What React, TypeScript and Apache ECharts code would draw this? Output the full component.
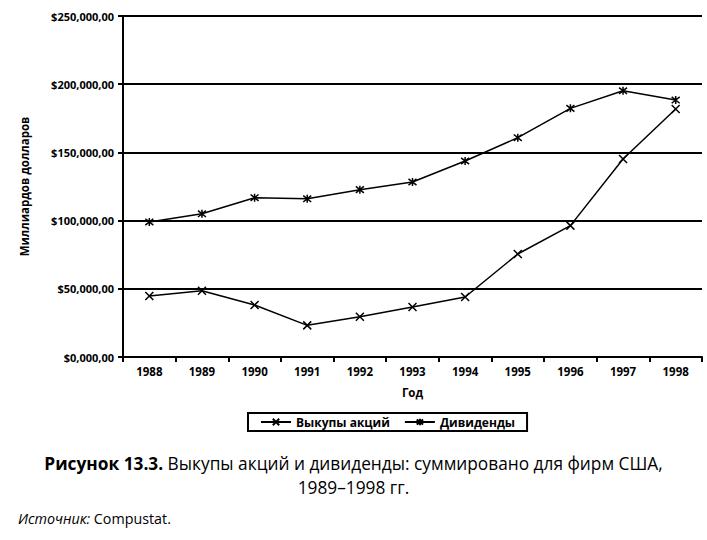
import React, { useEffect, useRef } from "react";
import * as echarts from "echarts";

const years = ["1988", "1989", "1990", "1991", "1992", "1993", "1994", "1995", "1996", "1997", "1998"];
const buybacks = [44700, 48600, 38100, 23200, 29500, 36700, 44000, 75500, 96300, 145200, 181800];
const dividends = [99000, 105000, 116800, 116000, 122700, 128300, 143700, 160800, 182300, 195200, 188400];
const yTickLabels = ["$0,000,00", "$50,000,00", "$100,000,00", "$150,000,00", "$200,000,00", "$250,000,00"];

const FONT = "'Open Sans', 'Noto Sans', sans-serif";
const CROSS = "path://M0,0L10,10M10,0L0,10";
const STAR = "path://M0,1L10,9M10,1L0,9M5,0L5,10";

export default function App() {
  const ref = useRef<HTMLDivElement>(null);
  useEffect(() => {
    if (!ref.current) return;
    const chart = echarts.init(ref.current, null, { renderer: "svg" });
    const seriesStyle = (name: string, data: number[], symbol: string) => ({
      name,
      type: "line",
      data,
      symbol,
      symbolSize: 8,
      showAllSymbol: true,
      lineStyle: { color: "#000", width: 1.5 },
      itemStyle: { color: "#000", borderColor: "#000", borderWidth: 1.5 },
    });
    chart.setOption({
      animation: false,
      textStyle: { fontFamily: FONT },
      grid: { left: 123, right: 5, top: 16, bottom: 183 },
      xAxis: {
        type: "category",
        data: years,
        boundaryGap: true,
        name: "Год",
        nameLocation: "middle",
        nameGap: 29,
        nameTextStyle: { fontWeight: "bold", fontSize: 11.5, color: "#000", fontFamily: FONT },
        axisLine: { lineStyle: { color: "#000", width: 2 } },
        axisTick: { show: true, alignWithLabel: false, length: 5, lineStyle: { color: "#000", width: 2 } },
        axisLabel: { color: "#000", fontWeight: "bold", fontSize: 11.5, margin: 8, fontFamily: FONT },
        splitLine: { show: false },
      },
      yAxis: {
        type: "value",
        min: 0,
        max: 250000,
        interval: 50000,
        name: "Миллиардов долларов",
        nameLocation: "middle",
        nameGap: 93,
        nameRotate: 90,
        nameTextStyle: { fontWeight: "bold", fontSize: 11.5, color: "#000", fontFamily: FONT },
        axisLine: { show: true, lineStyle: { color: "#000", width: 2 } },
        axisTick: { show: true, length: 5, lineStyle: { color: "#000", width: 2 } },
        axisLabel: {
          color: "#000",
          fontWeight: "bold",
          fontSize: 11,
          margin: 9,
          fontFamily: FONT,
          formatter: (v: number) => yTickLabels[Math.round(v / 50000)] ?? "",
        },
        splitLine: { show: true, lineStyle: { color: "#000", width: 2 } },
      },
      legend: {
        left: 248,
        top: 413,
        itemWidth: 30,
        itemHeight: 8,
        itemGap: 14,
        padding: [3, 12, 3, 12],
        borderColor: "#000",
        borderWidth: 2,
        textStyle: { color: "#000", fontWeight: "bold", fontSize: 12, fontFamily: FONT },
        data: ["Выкупы акций", "Дивиденды"],
      },
      series: [
        seriesStyle("Выкупы акций", buybacks, CROSS),
        seriesStyle("Дивиденды", dividends, STAR),
      ],
      graphic: [
        {
          type: "text",
          left: "center",
          top: 455,
          style: {
            text: "{b|Рисунок 13.3.} Выкупы акций и дивиденды: суммировано для фирм США,",
            font: `17.3px ${FONT}`,
            fill: "#000",
            rich: {
              b: { fontWeight: "bold", fontSize: 17.3, fontFamily: FONT, fill: "#000" },
            },
          },
        },
        {
          type: "text",
          left: "center",
          top: 479,
          style: {
            text: "1989–1998 гг.",
            font: `17.3px ${FONT}`,
            fill: "#000",
          },
        },
        {
          type: "text",
          left: 18,
          top: 511,
          style: {
            text: "{i|Источник:} Compustat.",
            font: `14.3px ${FONT}`,
            fill: "#000",
            rich: {
              i: { fontStyle: "italic", fontSize: 14.3, fontFamily: FONT, fill: "#000" },
            },
          },
        },
      ],
    });
    return () => chart.dispose();
  }, []);
  return <div ref={ref} style={{ position: "absolute", left: 0, top: 0, width: 707, height: 540 }} />;
}
